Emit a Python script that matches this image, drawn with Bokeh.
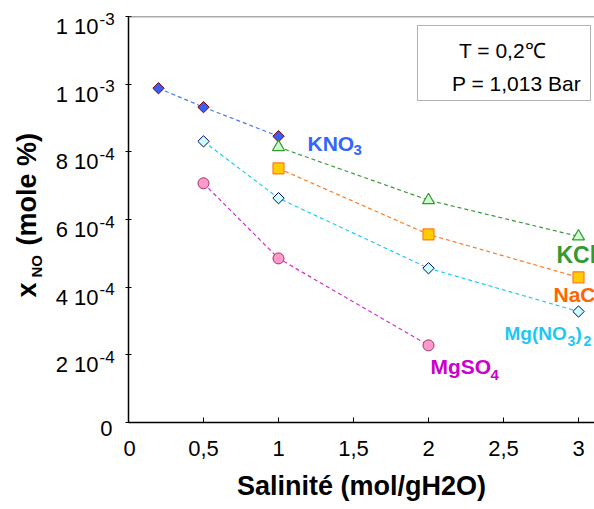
import math
from bokeh.plotting import figure
from bokeh.layouts import row
from bokeh.models import Range1d, FixedTicker, Label, Span, BoxAnnotation
from bokeh.core.properties import value
from bokeh.embed import file_html
from bokeh.resources import INLINE

# ---------------- data ----------------
salinity_kno3 = [0.2, 0.5, 1.0]
xno_kno3 = [0.988e-3, 0.932e-3, 0.846e-3]

salinity_kcl = [1.0, 2.0, 3.0]
xno_kcl = [0.814e-3, 0.657e-3, 0.550e-3]

salinity_nacl = [1.0, 2.0, 3.0]
xno_nacl = [0.751e-3, 0.556e-3, 0.429e-3]

salinity_mgno3 = [0.5, 1.0, 2.0, 3.0]
xno_mgno3 = [0.831e-3, 0.663e-3, 0.456e-3, 0.328e-3]

salinity_mgso4 = [0.5, 1.0, 2.0]
xno_mgso4 = [0.707e-3, 0.485e-3, 0.228e-3]

x_ticks = [0, 0.5, 1, 1.5, 2, 2.5, 3]
x_tick_labels = ["0", "0,5", "1", "1,5", "2", "2,5", "3"]
y_ticks = [0, 2e-4, 4e-4, 6e-4, 8e-4, 1e-3, 1.2e-3]
y_tick_mantissa = ["0", "2 10", "4 10", "6 10", "8 10", "1 10", "1 10"]
y_tick_exponent = ["", "-4", "-4", "-4", "-4", "-3", "-3"]

FONT = "Liberation Sans"

# ---------------- layout geometry (pixels) ----------------
W, H = 594, 509
LEFT_W = 123            # width of the text strip left of the plot
BORDER_L = 5            # main figure left border (y axis ticks)
TOP, BOTTOM = 16, 87    # main figure top / bottom borders
FRAME_H = H - TOP - BOTTOM
Y_END = 1.2e-3
PX = Y_END / FRAME_H    # data units per pixel on the y scale

# ---------------- main figure ----------------
p = figure(width=W - LEFT_W, height=H, output_backend="svg", toolbar_location=None,
           x_range=Range1d(0, (W - LEFT_W - BORDER_L) / 150.0), y_range=Range1d(0, Y_END),
           min_border_left=BORDER_L, min_border_right=0, min_border_top=TOP,
           min_border_bottom=BOTTOM)
p.frame_align = False
p.grid.visible = False
p.outline_line_color = None
p.background_fill_color = "white"
p.border_fill_color = "white"

xa = p.xaxis[0]
xa.ticker = FixedTicker(ticks=x_ticks)
xa.major_label_overrides = {t: l for t, l in zip(x_ticks, x_tick_labels)}
xa.major_tick_in = 5
xa.major_tick_out = 0
xa.minor_tick_line_color = None
xa.axis_line_width = 1.5
xa.axis_line_color = "black"
xa.major_tick_line_color = "black"
xa.major_label_text_font = FONT
xa.major_label_text_font_size = "22px"
xa.major_label_text_color = "black"
xa.major_label_standoff = 18
xa.axis_label = "Salinité (mol/gH2O)"
xa.axis_label_text_font = FONT
xa.axis_label_text_font_size = "27px"
xa.axis_label_text_font_style = "bold"
xa.axis_label_text_color = "black"
xa.axis_label_standoff = 12

ya = p.yaxis[0]
ya.ticker = FixedTicker(ticks=y_ticks)
ya.major_label_overrides = {t: "" for t in y_ticks}
ya.major_label_text_color = None
ya.major_label_standoff = 0
ya.major_tick_in = 3
ya.major_tick_out = 3
ya.minor_tick_line_color = None
ya.axis_line_width = 1.5
ya.axis_line_color = "black"
ya.major_tick_line_color = "black"

# top border of the plot area
p.add_layout(Span(location=Y_END, dimension="width", line_color="#555555", line_width=1.5))

# conditions box
p.add_layout(BoxAnnotation(left=1.9267, right=3.08, bottom=0.9517e-3, top=1.1734e-3,
                           fill_color="white", fill_alpha=1.0, line_color="black", line_width=1))
p.add_layout(Label(x=374, y=372, x_units="screen", y_units="screen", text="T = 0,2℃",
                   text_font=FONT, text_font_size="21px", text_align="center",
                   text_baseline="alphabetic", text_color="black"))
p.add_layout(Label(x=388, y=339, x_units="screen", y_units="screen", text="P = 1,013 Bar",
                   text_font=FONT, text_font_size="21px", text_align="center",
                   text_baseline="alphabetic", text_color="black"))

# series lines
DASH = "4 3"
p.line(salinity_kno3, xno_kno3, line_color="#4a78f0", line_dash=DASH, line_width=1.2)
p.line(salinity_kcl, xno_kcl, line_color="#3a9a3a", line_dash=DASH, line_width=1.2)
p.line(salinity_nacl, xno_nacl, line_color="#ff7a20", line_dash=DASH, line_width=1.2)
p.line(salinity_mgno3, xno_mgno3, line_color="#22ccf5", line_dash=DASH, line_width=1.2)
p.line(salinity_mgso4, xno_mgso4, line_color="#cc33cc", line_dash=DASH, line_width=1.2)

# markers
p.scatter(salinity_kno3, xno_kno3, marker="square", angle=math.pi / 4, size=8,
          fill_color="#3a5ff0", line_color="#800000", line_width=1)
p.scatter(salinity_kcl, xno_kcl, marker="triangle", size=12,
          fill_color="#ccffcc", line_color="#339933", line_width=1.2)
p.scatter(salinity_nacl, xno_nacl, marker="square", size=11,
          fill_color="#ffcc00", line_color="#ff7a20", line_width=1.2)
p.scatter(salinity_mgno3, xno_mgno3, marker="square", angle=math.pi / 4, size=8,
          fill_color="#ccffff", line_color="#000080", line_width=1)
p.scatter(salinity_mgso4, xno_mgso4, marker="circle", size=11,
          fill_color="#ff99cc", line_color="#993366", line_width=1)

# series labels (text glyphs, clipped by the frame like the original)
def tag(xs, ys, text, color, size, dx, dy):
    p.text(x=[xs[-1]], y=[ys[-1]], text=[text], x_offset=dx, y_offset=dy,
           text_font=value(FONT), text_font_size=size, text_font_style="bold",
           text_color=color, text_align="left", text_baseline="middle")

tag(salinity_kno3, xno_kno3, "KNO", "#3366ff", "21px", 29, 7)
tag(salinity_kno3, xno_kno3, "3", "#3366ff", "15px", 75, 14)
tag(salinity_kcl, xno_kcl, "KCl", "#339933", "23px", -22, 19)
tag(salinity_nacl, xno_nacl, "NaCl", "#ff6600", "21px", -25, 17)
tag(salinity_mgno3, xno_mgno3, "Mg(NO", "#1ec8f5", "19px", -74, 22)
tag(salinity_mgno3, xno_mgno3, "3", "#1ec8f5", "14px", -11, 29)
tag(salinity_mgno3, xno_mgno3, ")", "#1ec8f5", "19px", -3, 22)
tag(salinity_mgno3, xno_mgno3, "2", "#1ec8f5", "14px", 5, 29)
tag(salinity_mgso4, xno_mgso4, "MgSO", "#cc00cc", "21px", 2, 21)
tag(salinity_mgso4, xno_mgso4, "4", "#cc00cc", "15px", 62, 30)

# ---------------- left text strip (y tick labels and y title) ----------------
lf = figure(width=LEFT_W, height=H, output_backend="svg", toolbar_location=None,
            x_range=Range1d(0, LEFT_W),
            y_range=Range1d(-BOTTOM * PX, Y_END + TOP * PX),
            x_axis_location=None, y_axis_location=None,
            min_border_left=0, min_border_right=0, min_border_top=0, min_border_bottom=0)
lf.frame_align = False
lf.grid.visible = False
lf.outline_line_color = None
lf.border_fill_color = "white"
lf.extra_y_ranges = {"px": Range1d(0, H)}

mant_t = [t for t, e in zip(y_ticks, y_tick_exponent) if e]
mant_s = [m for m, e in zip(y_tick_mantissa, y_tick_exponent) if e]
exp_s = [e for e in y_tick_exponent if e]
zero_t = [t for t, e in zip(y_ticks, y_tick_exponent) if not e]
zero_s = [m for m, e in zip(y_tick_mantissa, y_tick_exponent) if not e]

lf.text(x=[98] * len(mant_t), y=mant_t, text=mant_s, y_offset=10,
        text_font=value(FONT), text_font_size="22px", text_color="black",
        text_align="right", text_baseline="middle")
lf.text(x=[99] * len(mant_t), y=mant_t, text=exp_s, y_offset=2,
        text_font=value(FONT), text_font_size="17px", text_color="black",
        text_align="left", text_baseline="middle")
lf.text(x=[112] * len(zero_t), y=zero_t, text=zero_s, y_offset=6,
        text_font=value(FONT), text_font_size="22px", text_color="black",
        text_align="right", text_baseline="middle")

# y title: x_NO (mole %), rotated
lf.text(x=[26], y=[H - 297], text=["x"], angle=math.pi / 2, y_range_name="px",
        text_font=value(FONT), text_font_size="27px", text_font_style="bold",
        text_color="black", text_align="left", text_baseline="middle")
lf.text(x=[36], y=[H - 277], text=["NO"], angle=math.pi / 2, y_range_name="px",
        text_font=value(FONT), text_font_size="15px", text_font_style="bold",
        text_color="black", text_align="left", text_baseline="middle")
lf.text(x=[26], y=[H - 245], text=["(mole %)"], angle=math.pi / 2, y_range_name="px",
        text_font=value(FONT), text_font_size="27px", text_font_style="bold",
        text_color="black", text_align="left", text_baseline="middle")

layout = row(lf, p, spacing=0)
open("out.html", "w").write(file_html(layout, INLINE))
